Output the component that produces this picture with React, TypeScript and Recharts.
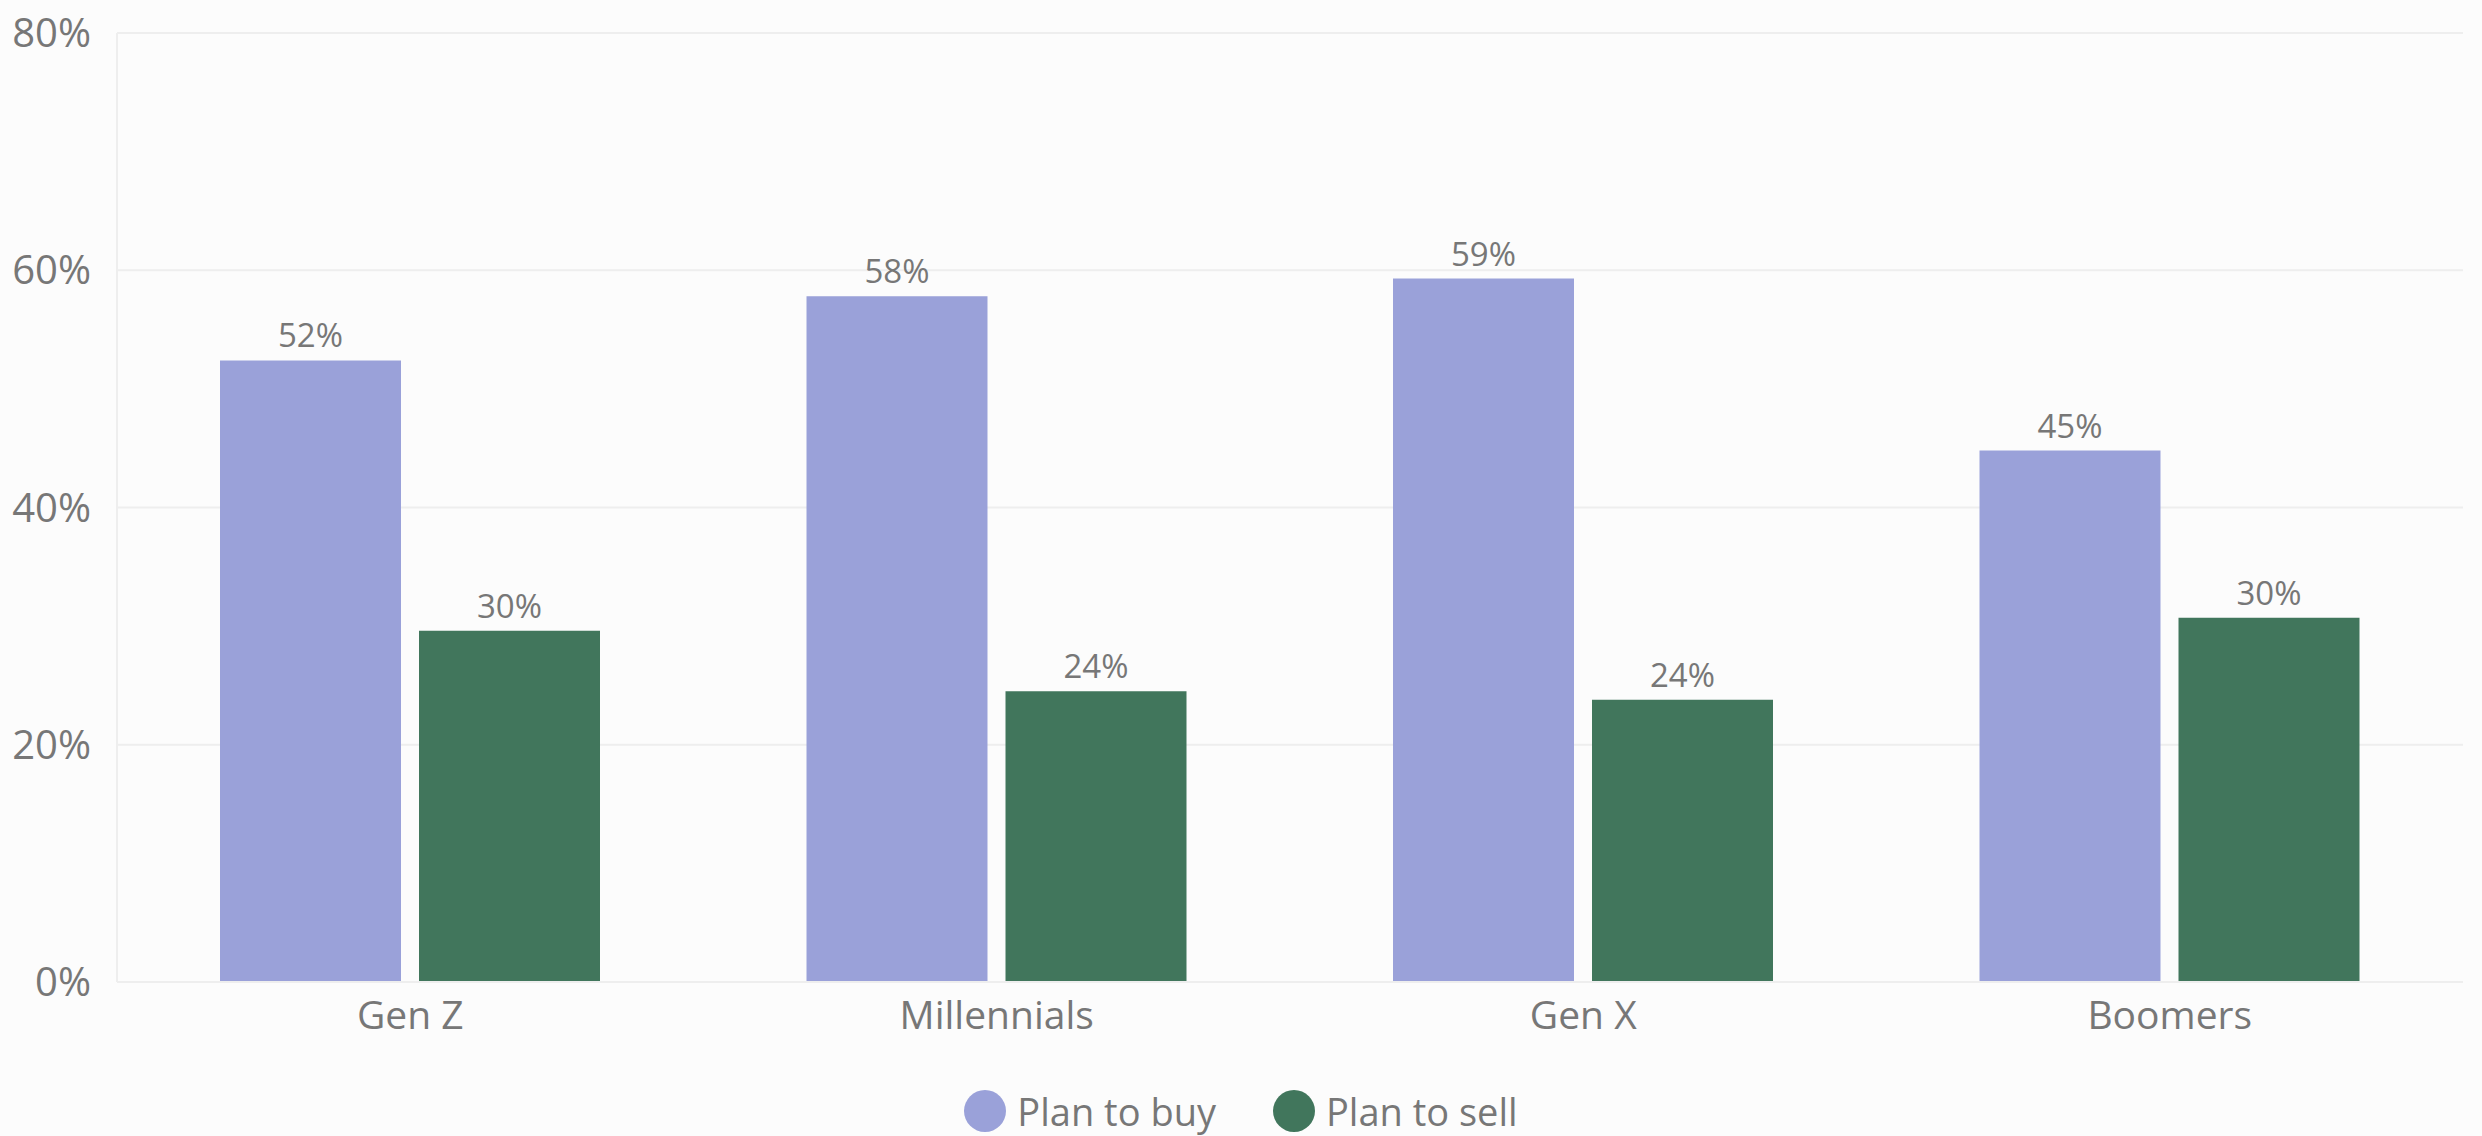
import React from "react";
import { BarChart, Bar, XAxis, YAxis, CartesianGrid, Legend, LabelList } from "recharts";

const categories = ["Gen Z", "Millennials", "Gen X", "Boomers"];
const planToBuy = [52.4, 57.8, 59.3, 44.8];
const planToSell = [29.6, 24.5, 23.8, 30.7];
const buyLabels = ["52%", "58%", "59%", "45%"];
const sellLabels = ["30%", "24%", "24%", "30%"];
const yTicks = [0, 20, 40, 60, 80];
const seriesNames = ["Plan to buy", "Plan to sell"];

const BUY = "#9aa1d9";
const SELL = "#41765c";
const TEXT = "#777777";
const GRID = "#eeeeee";
const FONT = "'Open Sans', sans-serif";

const data = categories.map((c, i) => ({
  name: c,
  buy: planToBuy[i],
  sell: planToSell[i],
  buyLabel: buyLabels[i],
  sellLabel: sellLabels[i],
}));

const LegendContent = () => (
  <div
    style={{
      display: "flex",
      justifyContent: "center",
      alignItems: "center",
      height: 50,
      fontFamily: FONT,
      fontSize: 38,
      color: TEXT,
    }}
  >
    {seriesNames.map((n, i) => (
      <div key={n} style={{ display: "flex", alignItems: "center", marginRight: i === 0 ? 57 : 0 }}>
        <span
          style={{
            display: "inline-block",
            width: 42,
            height: 42,
            borderRadius: "50%",
            background: i === 0 ? BUY : SELL,
            marginRight: 11,
          }}
        />
        <span style={{ lineHeight: "50px" }}>{n}</span>
      </div>
    ))}
  </div>
);

export default function App() {
  return (
    <div style={{ position: "absolute", left: 0, top: 0, width: 2482, height: 1136, background: "#fcfcfc" }}>
      <BarChart
        width={2482}
        height={1136}
        data={data}
        margin={{ top: 33, right: 19, left: 0, bottom: 0 }}
        barCategoryGap={103}
        barGap={18}
      >
        <CartesianGrid vertical={false} stroke={GRID} strokeWidth={2} />
        <XAxis
          dataKey="name"
          height={104}
          axisLine={{ stroke: GRID, strokeWidth: 2 }}
          tickLine={false}
          tickMargin={13}
          tick={{ fill: TEXT, fontSize: 39, fontFamily: FONT }}
        />
        <YAxis
          width={117}
          domain={[0, 80]}
          ticks={yTicks}
          tickFormatter={(v) => `${v}%`}
          axisLine={{ stroke: GRID, strokeWidth: 2 }}
          tickLine={false}
          tickMargin={20}
          tick={{ fill: TEXT, fontSize: 40, fontFamily: FONT }}
        />
        <Legend
          verticalAlign="bottom"
          content={<LegendContent />}
          wrapperStyle={{ bottom: 0, left: 0, width: 2482, height: 50 }}
        />
        <Bar dataKey="buy" name={seriesNames[0]} fill={BUY} isAnimationActive={false}>
          <LabelList
            dataKey="buyLabel"
            position="top"
            offset={13}
            style={{ fill: TEXT, fontSize: 33, fontFamily: FONT }}
          />
        </Bar>
        <Bar dataKey="sell" name={seriesNames[1]} fill={SELL} isAnimationActive={false}>
          <LabelList
            dataKey="sellLabel"
            position="top"
            offset={13}
            style={{ fill: TEXT, fontSize: 33, fontFamily: FONT }}
          />
        </Bar>
      </BarChart>
    </div>
  );
}
